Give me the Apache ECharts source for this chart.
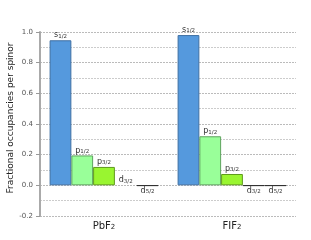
<!DOCTYPE html>
<html><head><meta charset="utf-8">
<script src="https://cdn.jsdelivr.net/npm/echarts@6/dist/echarts.min.js"></script>
<style>html,body{margin:0;padding:0;background:#fff}#c{width:311px;height:240px}</style>
</head><body><div id="c"></div>
<script>
var categories = ['PbF', 'FIF'];
var categorySubs = ['2', '2'];
var orbitals = ['s', 'p', 'p', 'd', 'd'];
var orbitalSubs = ['1/2', '1/2', '3/2', '3/2', '5/2'];
var pbf2 = [0.946, 0.195, 0.12, 0.0, -0.003];
var fif2 = [0.98, 0.32, 0.074, -0.003, -0.003];
var yTicks = [-0.2, 0.0, 0.2, 0.4, 0.6, 0.8, 1.0];

var fills = ['#5599dd', '#99ff99', '#99f530', '#777777', '#777777'];
var borders = ['#3f6fa3', '#5fa35f', '#5f9a1c', '#333333', '#333333'];

var series = orbitals.map(function (o, i) {
  var vals = [pbf2[i], fif2[i]];
  return {
    type: 'bar',
    name: o + orbitalSubs[i],
    barGap: '0%',
    barCategoryGap: '15%',
    itemStyle: { color: fills[i], borderColor: borders[i], borderWidth: 1 },
    data: vals.map(function (v) {
      return {
        value: v,
        itemStyle: v === 0 ? { borderWidth: 0 } : undefined,
        label: {
          show: true,
          position: v < 0 ? 'bottom' : 'top',
          distance: 1,
          formatter: '{m|' + o + '}{s|' + orbitalSubs[i] + '}',
          rich: {
            m: { fontSize: 8, color: '#333', fontFamily: 'DejaVu Sans', verticalAlign: 'bottom' },
            s: { fontSize: 5.5, color: '#333', fontFamily: 'DejaVu Sans', verticalAlign: 'bottom', padding: [2, 0, 0, 0] }
          }
        }
      };
    })
  };
});

var chart = echarts.init(document.getElementById('c'), null, { renderer: 'canvas' });
chart.setOption({
  animation: false,
  grid: { left: 40, right: 15, top: 32, bottom: 24, containLabel: false, outerBoundsMode: 'none' },
  xAxis: {
    type: 'category',
    data: categories,
    axisLine: { show: false },
    axisTick: { show: false },
    axisLabel: {
      margin: 5,
      formatter: function (v, idx) { return '{m|' + v + '}{s|' + categorySubs[idx] + '}'; },
      rich: {
        m: { fontSize: 10, color: '#222', fontFamily: 'DejaVu Sans', verticalAlign: 'bottom' },
        s: { fontSize: 7, color: '#222', fontFamily: 'DejaVu Sans', verticalAlign: 'bottom', padding: [3, 0, 0, 0] }
      }
    }
  },
  yAxis: {
    type: 'value',
    min: yTicks[0],
    max: yTicks[yTicks.length - 1],
    interval: 0.2,
    name: 'Fractional occupancies per spinor',
    nameLocation: 'middle',
    nameGap: 25,
    nameMoveOverlap: false,
    nameTextStyle: { fontSize: 9, color: '#222', fontFamily: 'DejaVu Sans', padding: [0, 0, 0, 12] },
    axisLine: { show: true, onZero: false, lineStyle: { color: '#aaaaaa', width: 2 } },
    axisTick: { show: true, length: 4, lineStyle: { color: '#999999' } },
    axisLabel: {
      fontSize: 7, color: '#555', fontFamily: 'DejaVu Sans', margin: 7,
      formatter: function (v) { return v.toFixed(1); }
    },
    splitLine: { show: true, lineStyle: { color: '#bbbbbb', type: [2, 1], width: 1 } },
    minorTick: { show: false, splitNumber: 2 },
    minorSplitLine: { show: true, lineStyle: { color: '#cccccc', type: [2, 1], width: 1 } }
  },
  series: series
});
</script>
</body></html>
